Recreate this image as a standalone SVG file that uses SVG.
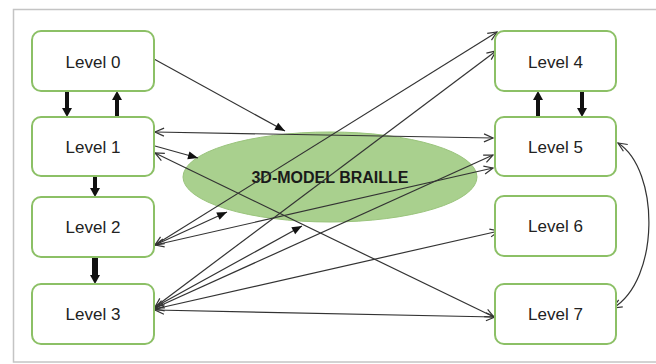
<svg xmlns="http://www.w3.org/2000/svg" width="656" height="364" viewBox="0 0 656 364">
<style>
.box{fill:#fff;stroke:#8cc066;stroke-width:2}
.lbl{font-family:"Liberation Sans",Arial,sans-serif;font-size:17px;fill:#222;text-anchor:middle}
.big{font-family:"Liberation Sans",Arial,sans-serif;font-size:16px;font-weight:bold;fill:#1a1a1a;text-anchor:middle}
.ln{fill:none;stroke:#333;stroke-width:1.2}
.both{marker-start:url(#open);marker-end:url(#open)}
.tofill{marker-end:url(#fill)}
.thick{stroke:#111;stroke-width:4;marker-end:url(#hv)}
</style>
<defs>
<marker id="open" markerUnits="userSpaceOnUse" markerWidth="12" markerHeight="10" refX="10" refY="4.5" orient="auto-start-reverse" overflow="visible">
<path d="M1,0.5 L10,4.5 L1,8.5" fill="none" stroke="#333" stroke-width="1.2"/>
</marker>
<marker id="fill" markerUnits="userSpaceOnUse" markerWidth="11" markerHeight="9" refX="10" refY="4" orient="auto" overflow="visible">
<path d="M0,0 L10,4 L0,8 Z" fill="#111"/>
</marker>
<marker id="hv" markerUnits="userSpaceOnUse" markerWidth="9" markerHeight="10" refX="1" refY="5" orient="auto" overflow="visible">
<path d="M0,0 L9,5 L0,10 Z" fill="#111"/>
</marker>
</defs>
<rect x="0" y="0" width="656" height="364" fill="#fff"/>
<rect x="13.5" y="9.5" width="660" height="352.5" fill="#fff" stroke="#c4c4c4" stroke-width="1.5"/>
<g id="model">
<ellipse cx="330" cy="177" rx="147" ry="45" fill="#a9d08e" stroke="#9ac47c" stroke-width="1"/>
<text class="big" x="330" y="183">3D-MODEL BRAILLE</text>
</g>
<g id="connectors">
<path class="ln tofill" d="M154,59 L285,131"/>
<path class="ln both" d="M155,132 L493,138"/>
<path class="ln tofill" d="M155,146 L198,158"/>
<path class="ln both" d="M155,153 L494,317"/>
<path class="ln tofill" d="M155,245 L227,212"/>
<path class="ln both" d="M155,245 L497,32"/>
<path class="ln both" d="M155,245 L493,168"/>
<path class="ln both" d="M155,307 L496,51"/>
<path class="ln tofill" d="M155,307 L302,226"/>
<path class="ln both" d="M155,308 L493,155"/>
<path class="ln both" d="M155,309 L499,231"/>
<path class="ln both" d="M155,310 L495,317"/>
<path class="ln both" d="M618,143 C660,170 660,280 613,308"/>
<line class="thick" x1="67" y1="91" x2="67" y2="109"/>
<line class="thick" x1="117" y1="117" x2="117" y2="99"/>
<line class="thick" x1="95" y1="176" x2="95" y2="189"/>
<line class="thick" x1="95" y1="257" x2="95" y2="276" style="stroke-width:6"/>
<line class="thick" x1="538" y1="117" x2="538" y2="99"/>
<line class="thick" x1="582" y1="91" x2="582" y2="109"/>
</g>
<g id="level0"><rect class="box" x="32" y="31" width="122" height="60" rx="9"/><text class="lbl" x="93" y="67.5">Level 0</text></g>
<g id="level1"><rect class="box" x="32" y="117" width="122" height="59" rx="9"/><text class="lbl" x="93" y="153">Level 1</text></g>
<g id="level2"><rect class="box" x="32" y="197" width="122" height="60" rx="9"/><text class="lbl" x="93" y="233">Level 2</text></g>
<g id="level3"><rect class="box" x="32" y="284" width="122" height="60" rx="9"/><text class="lbl" x="93" y="320">Level 3</text></g>
<g id="level4"><rect class="box" x="495" y="31" width="121" height="60" rx="9"/><text class="lbl" x="555.5" y="67.5">Level 4</text></g>
<g id="level5"><rect class="box" x="495" y="117" width="121" height="59" rx="9"/><text class="lbl" x="555.5" y="153">Level 5</text></g>
<g id="level6"><rect class="box" x="495" y="196" width="121" height="60" rx="9"/><text class="lbl" x="555.5" y="232">Level 6</text></g>
<g id="level7"><rect class="box" x="495" y="284" width="121" height="60" rx="9"/><text class="lbl" x="555.5" y="320">Level 7</text></g>
</svg>
